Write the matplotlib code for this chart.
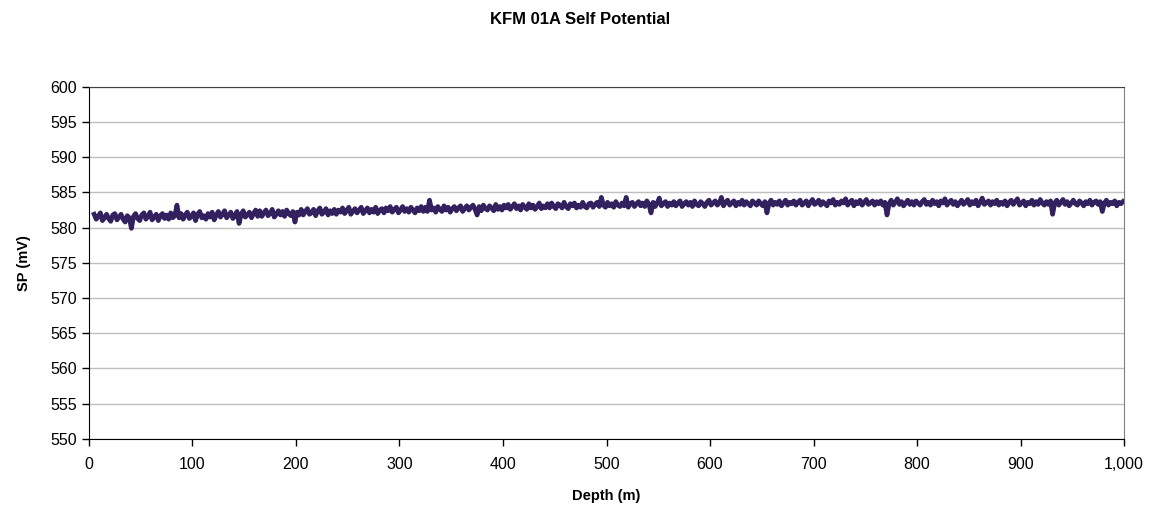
import numpy as np
import matplotlib.pyplot as plt
from matplotlib.ticker import FuncFormatter

plt.rcParams['font.family'] = ['Liberation Sans', 'DejaVu Sans']

# SP values, one every 2 m from 5 m depth
sp = [
    581.9, 581.2, 581.6, 582.1, 581.0, 581.4, 581.9, 581.3, 580.9, 581.8, 582.0, 581.1, 581.5, 581.9, 581.2, 580.8, 581.7, 581.4, 579.9, 581.6,
    582.0, 581.3, 581.0, 581.8, 582.1, 581.2, 581.6, 582.2, 581.1, 581.5, 581.9, 581.0, 581.7, 582.0, 581.3, 581.8, 581.2, 582.1, 581.4, 581.7,
    583.2, 581.4, 582.0, 581.2, 581.8, 582.2, 581.3, 581.6, 582.1, 581.0, 581.9, 582.3, 581.4, 581.7, 581.2, 582.0, 581.5, 582.2, 581.1, 581.8,
    582.3, 581.5, 581.9, 582.4, 581.4, 581.8, 582.2, 581.3, 581.7, 582.3, 580.6, 581.9, 582.4, 581.5, 581.8, 582.2, 581.4, 582.0, 582.5, 581.6,
    582.4, 581.6, 582.1, 582.5, 581.7, 582.0, 582.6, 581.5, 581.9, 582.4, 581.8, 582.3, 581.6, 582.5, 582.0, 581.7, 582.3, 580.8, 582.2, 581.8,
    582.6, 581.8, 582.3, 582.7, 581.9, 582.1, 582.6, 581.7, 582.4, 582.8, 581.9, 582.2, 582.7, 581.8, 582.4, 582.0, 582.6, 581.9, 582.5, 582.2,
    582.8, 582.0, 582.4, 582.9, 581.9, 582.3, 582.7, 582.1, 582.5, 582.9, 582.0, 582.4, 582.8, 582.1, 582.6, 582.2, 582.9, 582.0, 582.5, 582.7,
    582.1, 582.8, 582.4, 583.0, 582.2, 582.6, 582.9, 582.1, 582.5, 583.0, 582.3, 582.7, 582.2, 582.9, 582.5, 582.1, 582.8, 582.4, 583.0, 582.3,
    582.9, 582.3, 583.9, 582.5, 582.8, 582.2, 583.0, 582.6, 582.3, 583.1, 582.5, 582.9, 582.2, 582.7, 583.0, 582.4, 582.8, 583.1, 582.3, 582.7,
    583.1, 582.5, 582.9, 583.2, 582.6, 581.8, 583.0, 582.4, 583.2, 582.7, 582.5, 583.1, 582.8, 582.4, 583.3, 582.6, 583.0, 582.5, 583.2, 582.8,
    583.3, 582.6, 583.0, 583.4, 582.7, 583.1, 582.5, 583.3, 582.9, 582.6, 583.4, 582.8, 583.2, 582.6, 583.0, 583.5, 582.7, 583.1, 582.8, 583.4,
    582.8, 583.5, 583.0, 582.7, 583.4, 583.2, 582.8, 583.6, 583.0, 582.7, 583.4, 583.1, 583.5, 582.8, 583.2, 582.9, 583.6, 583.0, 582.8, 583.4,
    583.5, 582.9, 583.3, 583.6, 583.0, 584.3, 583.2, 582.9, 583.6, 583.1, 583.4, 582.9, 583.7, 583.2, 583.0, 583.5, 583.1, 584.3, 582.9, 583.4,
    583.6, 583.0, 583.4, 583.7, 583.1, 583.5, 583.0, 583.8, 583.3, 582.1, 583.6, 583.0, 583.5, 584.2, 583.1, 583.4, 583.7, 583.0, 583.5, 583.2,
    583.7, 583.1, 583.5, 583.8, 583.0, 583.4, 583.7, 583.2, 583.6, 583.0, 583.8, 583.3, 583.1, 583.7, 583.4, 583.0, 583.6, 583.9, 583.2, 583.5,
    583.8, 583.2, 583.5, 584.3, 583.1, 583.6, 583.9, 583.2, 583.5, 583.8, 583.1, 583.6, 583.3, 583.9, 583.2, 583.7, 583.4, 583.1, 583.8, 583.5,
    583.2, 583.8, 583.4, 583.1, 583.7, 582.1, 583.5, 583.9, 583.2, 583.6, 583.3, 583.8, 583.1, 583.5, 583.9, 583.2, 583.6, 583.4, 583.8, 583.2,
    583.6, 583.9, 583.2, 583.5, 583.8, 583.1, 583.6, 584.0, 583.3, 583.5, 583.9, 583.2, 583.7, 583.4, 583.1, 583.8, 583.5, 584.0, 583.2, 583.6,
    583.3, 583.8, 583.5, 584.1, 583.2, 583.6, 583.9, 583.1, 583.7, 583.4, 583.9, 583.2, 583.6, 584.0, 583.3, 583.5, 583.8, 583.2, 583.7, 583.4,
    583.8, 583.2, 583.6, 581.8, 583.4, 583.9, 583.2, 583.6, 584.1, 583.3, 583.7, 583.1, 583.5, 583.9, 583.3, 583.7, 583.2, 583.8, 583.5, 583.2,
    583.7, 584.0, 583.3, 583.6, 583.2, 583.9, 583.4, 583.7, 583.1, 583.8, 583.5, 584.1, 583.2, 583.6, 583.9, 583.3, 583.7, 583.1, 583.5, 583.9,
    583.3, 583.6, 584.0, 583.2, 583.7, 583.4, 583.9, 583.1, 583.6, 584.2, 583.3, 583.5, 583.8, 583.2, 583.7, 583.4, 583.9, 583.2, 583.6, 583.3,
    583.8, 583.1, 583.6, 583.9, 583.3, 583.7, 584.1, 583.2, 583.5, 583.8, 583.1, 583.6, 583.4, 583.9, 583.2, 583.7, 583.3, 584.0, 583.5, 583.2,
    583.7, 583.3, 583.8, 581.9, 583.5, 583.9, 583.2, 583.6, 584.0, 583.3, 583.7, 583.1, 583.5, 583.9, 583.4, 583.2, 583.8, 583.5, 583.1, 583.7,
    583.4, 583.9, 583.2, 583.6, 583.8, 583.3, 583.7, 582.3, 583.5, 583.9, 583.2, 583.6, 583.4, 583.8, 583.1, 583.6, 583.4, 583.7,
]
depth = 5 + 2 * np.arange(len(sp))
yticks = list(range(550, 601, 5))
xticks = list(range(0, 1001, 100))

fig = plt.figure(figsize=(11.6, 5.2), dpi=100)
ax = fig.add_axes([0.0767, 0.156, 0.8923, 0.677])

ax.plot(depth, sp, color='#33205e', lw=3.4)

ax.set_xlim(0, 1000)
ax.set_ylim(550, 600)
ax.set_xticks(xticks)
ax.set_yticks(yticks)
ax.xaxis.set_major_formatter(FuncFormatter(lambda v, p: f'{v:,.0f}'))
ax.tick_params(direction='out', length=5, labelsize=11.5, width=1)
ax.tick_params(axis='x', pad=8)
ax.grid(axis='y', color='#c0c0c0', lw=1)
ax.set_axisbelow(True)

ax.spines['top'].set_color('#404040')
ax.spines['right'].set_color('#808080')
for s in ['left', 'bottom']:
    ax.spines[s].set_color('black')

ax.set_xlabel('Depth (m)', fontsize=10.5, fontweight='bold', labelpad=12)
ax.set_ylabel('SP (mV)', fontsize=10.5, fontweight='bold', labelpad=14)
fig.suptitle('KFM 01A Self Potential', fontsize=12, fontweight='bold', y=0.977)

fig.savefig('out.png', dpi=100)
